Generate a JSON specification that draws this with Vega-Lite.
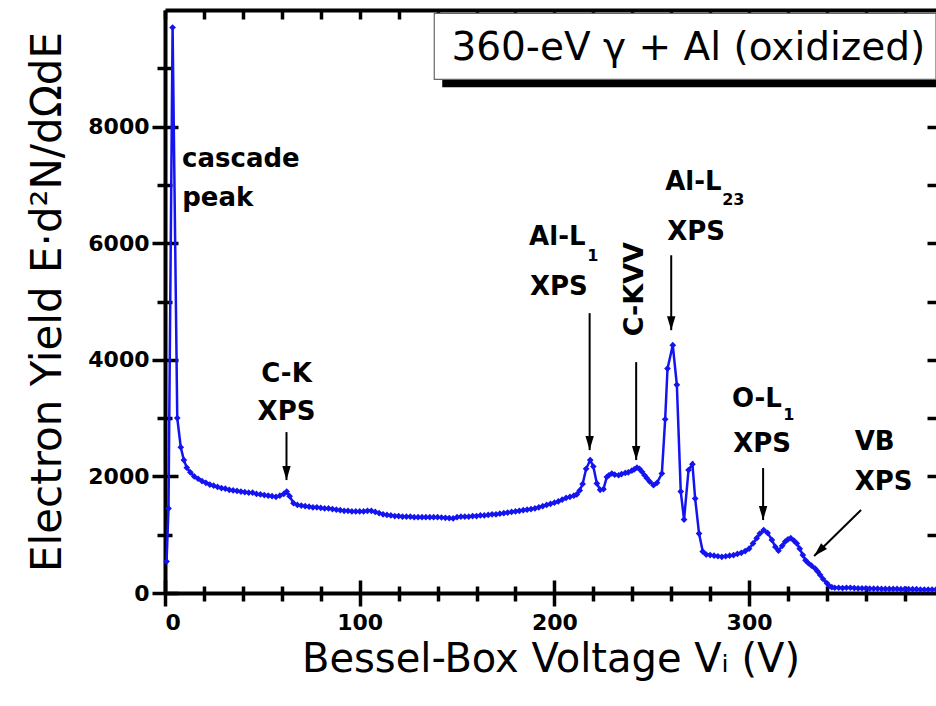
{
  "$schema": "https://vega.github.io/schema/vega-lite/v6.json",
  "autosize": {"type": "none"},
  "padding": {"left": 165, "top": 10, "right": 0, "bottom": 113},
  "width": 771,
  "height": 583,
  "background": "white",
  "view": {"stroke": null},
  "config": {
    "axis": {
      "grid": false,
      "labelFont": "DejaVu Sans",
      "labelFontWeight": "bold",
      "labelFontSize": 22,
      "labelColor": "black",
      "tickColor": "black",
      "domainColor": "black",
      "tickWidth": 3.5,
      "domainWidth": 4,
      "titleFont": "DejaVu Sans",
      "titleFontWeight": "normal",
      "titleColor": "black"
    }
  },
  "datasets": {
    "curve": [
      {"v": 0.8, "y": 540}, {"v": 1.8, "y": 1450}, {"v": 3.9, "y": 9700}, {"v": 6.3, "y": 3000},
      {"v": 8.1, "y": 2500}, {"v": 9.7, "y": 2280}, {"v": 11.2, "y": 2150}, {"v": 13, "y": 2070},
      {"v": 15, "y": 2000}, {"v": 17, "y": 1960}, {"v": 19, "y": 1920}, {"v": 21, "y": 1890},
      {"v": 23, "y": 1860}, {"v": 25, "y": 1840}, {"v": 27, "y": 1820}, {"v": 29, "y": 1800},
      {"v": 31, "y": 1790}, {"v": 33, "y": 1770}, {"v": 35, "y": 1760}, {"v": 37, "y": 1750},
      {"v": 39, "y": 1740}, {"v": 41, "y": 1730}, {"v": 43, "y": 1720}, {"v": 45, "y": 1720},
      {"v": 47, "y": 1700}, {"v": 49, "y": 1690}, {"v": 51, "y": 1680}, {"v": 53, "y": 1670},
      {"v": 55, "y": 1660}, {"v": 57, "y": 1650}, {"v": 59, "y": 1670}, {"v": 61, "y": 1700},
      {"v": 62.5, "y": 1740}, {"v": 64, "y": 1660}, {"v": 66, "y": 1540}, {"v": 68, "y": 1510},
      {"v": 70, "y": 1500}, {"v": 72, "y": 1490}, {"v": 74, "y": 1480}, {"v": 76, "y": 1470},
      {"v": 78, "y": 1470}, {"v": 80, "y": 1460}, {"v": 82, "y": 1450}, {"v": 84, "y": 1450},
      {"v": 86, "y": 1440}, {"v": 88, "y": 1430}, {"v": 90, "y": 1420}, {"v": 92, "y": 1410},
      {"v": 94, "y": 1410}, {"v": 96, "y": 1400}, {"v": 98, "y": 1400}, {"v": 100, "y": 1400},
      {"v": 102, "y": 1400}, {"v": 104, "y": 1410}, {"v": 106, "y": 1410}, {"v": 108, "y": 1390},
      {"v": 110, "y": 1370}, {"v": 112, "y": 1350}, {"v": 114, "y": 1340}, {"v": 116, "y": 1330},
      {"v": 118, "y": 1320}, {"v": 120, "y": 1320}, {"v": 122, "y": 1310}, {"v": 124, "y": 1310},
      {"v": 126, "y": 1310}, {"v": 128, "y": 1300}, {"v": 130, "y": 1300}, {"v": 132, "y": 1300},
      {"v": 134, "y": 1300}, {"v": 136, "y": 1300}, {"v": 138, "y": 1300}, {"v": 140, "y": 1300},
      {"v": 142, "y": 1295}, {"v": 144, "y": 1290}, {"v": 146, "y": 1285}, {"v": 148, "y": 1280},
      {"v": 150, "y": 1300}, {"v": 152, "y": 1310}, {"v": 154, "y": 1310}, {"v": 156, "y": 1310},
      {"v": 158, "y": 1320}, {"v": 160, "y": 1320}, {"v": 162, "y": 1330}, {"v": 164, "y": 1330},
      {"v": 166, "y": 1340}, {"v": 168, "y": 1350}, {"v": 170, "y": 1350}, {"v": 172, "y": 1360},
      {"v": 174, "y": 1370}, {"v": 176, "y": 1380}, {"v": 178, "y": 1390}, {"v": 180, "y": 1400},
      {"v": 182, "y": 1410}, {"v": 184, "y": 1420}, {"v": 186, "y": 1430}, {"v": 188, "y": 1440},
      {"v": 190, "y": 1450}, {"v": 192, "y": 1470}, {"v": 194, "y": 1490}, {"v": 196, "y": 1510},
      {"v": 198, "y": 1530}, {"v": 200, "y": 1550}, {"v": 202, "y": 1570}, {"v": 204, "y": 1600},
      {"v": 206, "y": 1630}, {"v": 208, "y": 1650}, {"v": 210, "y": 1670}, {"v": 211.5, "y": 1690},
      {"v": 213, "y": 1760}, {"v": 214.5, "y": 1870}, {"v": 216.3, "y": 2130}, {"v": 218.4, "y": 2280},
      {"v": 220, "y": 2170}, {"v": 221.8, "y": 1880}, {"v": 223.5, "y": 1770}, {"v": 225.2, "y": 1780},
      {"v": 226.9, "y": 1990}, {"v": 228, "y": 2020}, {"v": 229.5, "y": 2050}, {"v": 231, "y": 2030},
      {"v": 233, "y": 2020}, {"v": 234.5, "y": 2040}, {"v": 236.4, "y": 2060}, {"v": 238, "y": 2070},
      {"v": 239.8, "y": 2100}, {"v": 241, "y": 2120}, {"v": 242.4, "y": 2150}, {"v": 243.7, "y": 2130},
      {"v": 245, "y": 2080}, {"v": 246.3, "y": 2020}, {"v": 247.5, "y": 1970}, {"v": 249, "y": 1910},
      {"v": 250.9, "y": 1850}, {"v": 252.7, "y": 1890}, {"v": 255.2, "y": 2050}, {"v": 256.9, "y": 2980},
      {"v": 258.1, "y": 3850}, {"v": 260.8, "y": 4250}, {"v": 262.9, "y": 3570}, {"v": 264.9, "y": 1740},
      {"v": 266.6, "y": 1260}, {"v": 268.9, "y": 2110}, {"v": 270.9, "y": 2210}, {"v": 272.3, "y": 1620},
      {"v": 274.3, "y": 1020}, {"v": 276.2, "y": 710}, {"v": 278, "y": 660}, {"v": 280, "y": 650},
      {"v": 282, "y": 640}, {"v": 284, "y": 630}, {"v": 286, "y": 620}, {"v": 288, "y": 630},
      {"v": 290, "y": 640}, {"v": 292, "y": 650}, {"v": 294, "y": 670}, {"v": 296, "y": 690},
      {"v": 298, "y": 720}, {"v": 300, "y": 760}, {"v": 302, "y": 850}, {"v": 303.9, "y": 940},
      {"v": 305.5, "y": 1020}, {"v": 307.5, "y": 1080}, {"v": 309.5, "y": 1030}, {"v": 311.7, "y": 910},
      {"v": 313.5, "y": 790}, {"v": 315.1, "y": 725}, {"v": 317, "y": 810}, {"v": 318.5, "y": 880},
      {"v": 320, "y": 920}, {"v": 321.4, "y": 940}, {"v": 323, "y": 900}, {"v": 324.5, "y": 850},
      {"v": 326, "y": 760}, {"v": 327.6, "y": 650}, {"v": 329, "y": 560}, {"v": 330.5, "y": 510},
      {"v": 332, "y": 470}, {"v": 333.9, "y": 420}, {"v": 335.2, "y": 370}, {"v": 336.5, "y": 310},
      {"v": 338, "y": 240}, {"v": 339.9, "y": 170}, {"v": 341.2, "y": 120}, {"v": 342.5, "y": 100},
      {"v": 344, "y": 90}, {"v": 346, "y": 90}, {"v": 348, "y": 85}, {"v": 350, "y": 90},
      {"v": 352, "y": 90}, {"v": 354, "y": 85}, {"v": 356, "y": 80}, {"v": 358, "y": 80},
      {"v": 360, "y": 80}, {"v": 362, "y": 75}, {"v": 364, "y": 75}, {"v": 366, "y": 75},
      {"v": 368, "y": 70}, {"v": 370, "y": 70}, {"v": 372, "y": 70}, {"v": 374, "y": 70},
      {"v": 376, "y": 70}, {"v": 378, "y": 65}, {"v": 380, "y": 65}, {"v": 382, "y": 65},
      {"v": 384, "y": 65}, {"v": 386, "y": 65}, {"v": 388, "y": 60}, {"v": 390, "y": 60},
      {"v": 392, "y": 60}, {"v": 394, "y": 60}, {"v": 396, "y": 60}
    ],
    "notes": [
      {"v": 39.0, "y": 7302, "label": "cascade"},
      {"v": 27.1, "y": 6633, "label": "peak"},
      {"v": 62.4, "y": 3617, "label": "C-K"},
      {"v": 62.4, "y": 2965, "label": "XPS"},
      {"v": 201.5, "y": 5965, "label": "Al-L"},
      {"v": 202.3, "y": 5108, "label": "XPS"},
      {"v": 271.4, "y": 6907, "label": "Al-L"},
      {"v": 272.8, "y": 6051, "label": "XPS"},
      {"v": 304.0, "y": 3188, "label": "O-L"},
      {"v": 306.7, "y": 2417, "label": "XPS"},
      {"v": 364.5, "y": 2451, "label": "VB"},
      {"v": 369.1, "y": 1765, "label": "XPS"}
    ],
    "subs": [
      {"v": 216.9, "y": 5700, "label": "1"},
      {"v": 286.2, "y": 6650, "label": "23"},
      {"v": 317.5, "y": 2960, "label": "1"}
    ],
    "rotated": [
      {"v": 241.5, "y": 5211, "label": "C-KVV"}
    ],
    "arrows": [
      {"v": 62.4, "y": 2760, "v2": 62.4, "y2": 1937},
      {"v": 218.1, "y": 4800, "v2": 218.1, "y2": 2451},
      {"v": 242.0, "y": 3960, "v2": 242.0, "y2": 2280},
      {"v": 260.0, "y": 5793, "v2": 260.0, "y2": 4508},
      {"v": 307.2, "y": 2143, "v2": 307.2, "y2": 1251},
      {"v": 357.5, "y": 1423, "v2": 333.4, "y2": 634}
    ],
    "heads": [
      {"v": 62.4, "y": 1937},
      {"v": 218.1, "y": 2451},
      {"v": 242.0, "y": 2280},
      {"v": 260.0, "y": 4508},
      {"v": 307.2, "y": 1251}
    ],
    "diag": [
      {"v": 333.4, "y": 634}
    ],
    "shadow": [
      {"v": 142.4, "v2": 396, "y": 8673, "y2": 9800}
    ],
    "box": [
      {"v": 138.3, "v2": 396, "y": 8810, "y2": 9941}
    ],
    "title": [
      {"v": 147.1, "y": 9136, "label": "360-eV γ + Al (oxidized)"}
    ]
  },
  "layer": [
    {
      "data": {"name": "shadow"},
      "mark": {"type": "rect", "color": "black"},
      "encoding": {
        "x": {"field": "v", "type": "quantitative", "scale": {"domain": [0, 396], "nice": false, "zero": false},
              "axis": {"orient": "top", "values": [0, 20, 40, 60, 80, 100, 120, 140, 160, 180, 200, 220, 240, 260, 280, 300, 320, 340, 360, 380], "labels": false, "title": null, "tickSize": -9, "domain": true, "domainWidth": 4}},
        "x2": {"field": "v2"},
        "y": {"field": "y", "type": "quantitative", "scale": {"domain": [0, 10000], "nice": false},
              "axis": {"orient": "right", "values": [1000, 2000, 3000, 4000, 5000, 6000, 7000, 8000, 9000], "labels": false, "title": null, "tickSize": -9, "domain": false}},
        "y2": {"field": "y2"}
      }
    },
    {
      "data": {"name": "box"},
      "mark": {"type": "rect", "fill": "white", "stroke": "#666666", "strokeWidth": 1.2},
      "encoding": {
        "x": {"field": "v", "type": "quantitative", "scale": {"domain": [0, 396], "nice": false, "zero": false},
              "axis": {"orient": "bottom", "values": [20, 40, 60, 80, 120, 140, 160, 180, 220, 240, 260, 280, 320, 340, 360, 380], "labels": false, "title": null, "tickSize": 8, "domain": false}},
        "x2": {"field": "v2"},
        "y": {"field": "y", "type": "quantitative", "scale": {"domain": [0, 10000], "nice": false},
              "axis": {"orient": "left", "values": [1000, 3000, 5000, 7000, 9000], "labels": false, "title": null, "tickSize": 8, "domain": false}},
        "y2": {"field": "y2"}
      }
    },
    {
      "data": {"name": "arrows"},
      "mark": {"type": "rule", "color": "black", "strokeWidth": 2},
      "encoding": {
        "x": {"field": "v", "type": "quantitative", "scale": {"domain": [0, 396], "nice": false, "zero": false},
              "axis": {"orient": "bottom", "values": [20, 40, 60, 80, 120, 140, 160, 180, 220, 240, 260, 280, 320, 340, 360, 380], "labels": false, "title": null, "tickSize": -7, "domain": false}},
        "x2": {"field": "v2"},
        "y": {"field": "y", "type": "quantitative", "scale": {"domain": [0, 10000], "nice": false},
              "axis": {"orient": "left", "values": [1000, 3000, 5000, 7000, 9000], "labels": false, "title": null, "tickSize": -7, "domain": false}},
        "y2": {"field": "y2"}
      }
    },
    {
      "data": {"name": "heads"},
      "mark": {"type": "point", "shape": "M-0.6,-2L0.6,-2L0,0Z", "filled": true, "color": "black", "opacity": 1, "size": 196},
      "encoding": {
        "x": {"field": "v", "type": "quantitative", "scale": {"domain": [0, 396], "nice": false, "zero": false},
              "axis": {"orient": "bottom", "values": [0, 100, 200, 300], "labels": false, "title": null, "tickSize": -13, "domain": false}},
        "y": {"field": "y", "type": "quantitative", "scale": {"domain": [0, 10000], "nice": false},
              "axis": {"orient": "left", "values": [0, 2000, 4000, 6000, 8000], "labels": false, "title": null, "tickSize": -13, "domain": false}}
      }
    },
    {
      "data": {"name": "diag"},
      "mark": {"type": "point", "shape": "M-0.6,-2L0.6,-2L0,0Z", "filled": true, "color": "black", "opacity": 1, "size": 196, "angle": 45},
      "encoding": {
        "x": {"field": "v", "type": "quantitative", "scale": {"domain": [0, 396], "nice": false, "zero": false}, "axis": null},
        "y": {"field": "y", "type": "quantitative", "scale": {"domain": [0, 10000], "nice": false}, "axis": null}
      }
    },
    {
      "data": {"name": "curve"},
      "mark": {"type": "line", "color": "#1414f0", "strokeWidth": 2.5},
      "encoding": {
        "x": {"field": "v", "type": "quantitative", "scale": {"domain": [0, 396], "nice": false, "zero": false},
              "axis": {"orient": "bottom", "values": [0, 100, 200, 300], "format": "d", "title": "Bessel-Box Voltage Vᵢ   (V)", "titleFontSize": 40, "titlePadding": 6, "tickSize": 13, "labelPadding": 6, "domain": true, "domainWidth": 4}},
        "y": {"field": "y", "type": "quantitative", "scale": {"domain": [0, 10000], "nice": false},
              "axis": {"orient": "left", "values": [0, 2000, 4000, 6000, 8000], "format": "d", "title": "Electron Yield  E·d²N/dΩdE", "titleFontSize": 42, "titlePadding": 18, "tickSize": 13, "labelPadding": 3, "domain": true, "domainWidth": 4}}
      }
    },
    {
      "data": {"name": "curve"},
      "mark": {"type": "point", "shape": "diamond", "filled": true, "color": "#1414f0", "opacity": 1, "size": 45},
      "encoding": {
        "x": {"field": "v", "type": "quantitative", "scale": {"domain": [0, 396], "nice": false, "zero": false}, "axis": null},
        "y": {"field": "y", "type": "quantitative", "scale": {"domain": [0, 10000], "nice": false}, "axis": null}
      }
    },
    {
      "data": {"name": "notes"},
      "mark": {"type": "text", "font": "DejaVu Sans", "fontWeight": "bold", "fontSize": 26, "align": "center", "baseline": "alphabetic", "color": "black"},
      "encoding": {
        "x": {"field": "v", "type": "quantitative", "scale": {"domain": [0, 396], "nice": false, "zero": false}, "axis": null},
        "y": {"field": "y", "type": "quantitative", "scale": {"domain": [0, 10000], "nice": false}, "axis": null},
        "text": {"field": "label"}
      }
    },
    {
      "data": {"name": "subs"},
      "mark": {"type": "text", "font": "DejaVu Sans", "fontWeight": "bold", "fontSize": 16, "align": "left", "baseline": "alphabetic", "color": "black"},
      "encoding": {
        "x": {"field": "v", "type": "quantitative", "scale": {"domain": [0, 396], "nice": false, "zero": false}, "axis": null},
        "y": {"field": "y", "type": "quantitative", "scale": {"domain": [0, 10000], "nice": false}, "axis": null},
        "text": {"field": "label"}
      }
    },
    {
      "data": {"name": "rotated"},
      "mark": {"type": "text", "font": "DejaVu Sans", "fontWeight": "bold", "fontSize": 27, "align": "center", "baseline": "middle", "angle": 270, "color": "black"},
      "encoding": {
        "x": {"field": "v", "type": "quantitative", "scale": {"domain": [0, 396], "nice": false, "zero": false}, "axis": null},
        "y": {"field": "y", "type": "quantitative", "scale": {"domain": [0, 10000], "nice": false}, "axis": null},
        "text": {"field": "label"}
      }
    },
    {
      "data": {"name": "title"},
      "mark": {"type": "text", "font": "DejaVu Sans", "fontWeight": "normal", "fontSize": 39, "align": "left", "baseline": "alphabetic", "color": "black"},
      "encoding": {
        "x": {"field": "v", "type": "quantitative", "scale": {"domain": [0, 396], "nice": false, "zero": false}, "axis": null},
        "y": {"field": "y", "type": "quantitative", "scale": {"domain": [0, 10000], "nice": false}, "axis": null},
        "text": {"field": "label"}
      }
    }
  ],
  "resolve": {"axis": {"x": "independent", "y": "independent"}}
}
